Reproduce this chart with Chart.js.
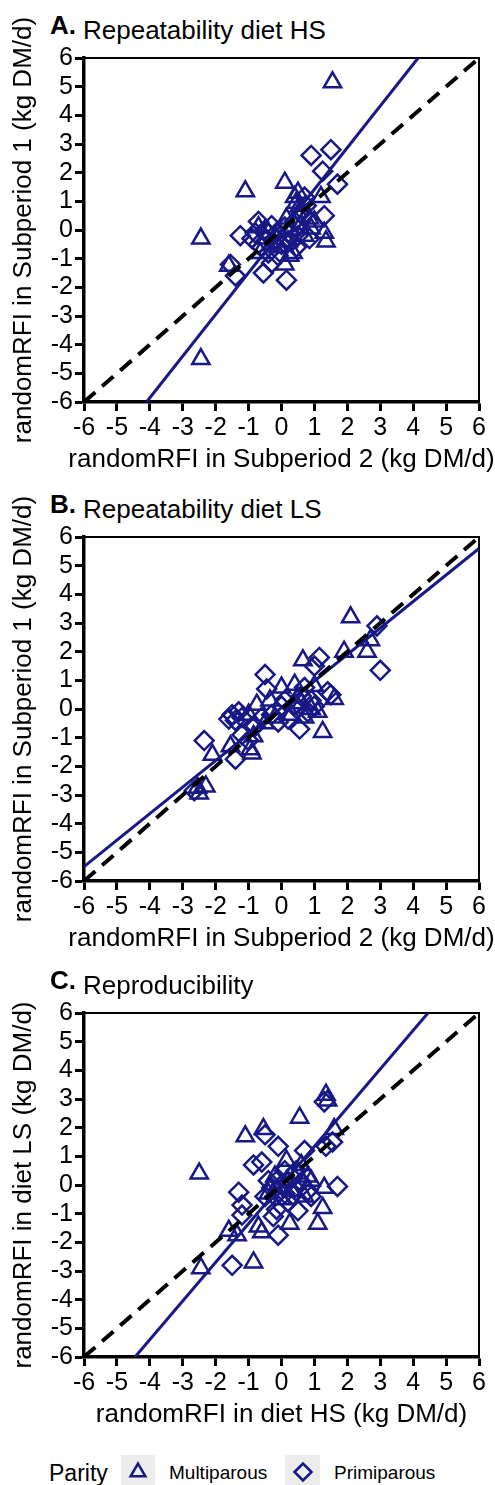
<!DOCTYPE html>
<html>
<head>
<meta charset="utf-8">
<script src="https://cdn.jsdelivr.net/npm/chart.js@4.4.1/dist/chart.umd.min.js"></script>
<style>
    html, body { margin: 0; padding: 0; background: #fff; }
    body {
        width: 495px; height: 1485px; position: relative; overflow: hidden;
        font-family: "Liberation Sans", Arial, sans-serif; color: #000;
    }
    .panel { position: absolute; left: 0; width: 495px; height: 478px; }
    .panel canvas { position: absolute; left: 0; top: 0; }
    .panel-title {
        position: absolute; left: 50px; top: 15px;
        font-size: 26px; line-height: 30px; white-space: nowrap;
    }
    .panel-title b { font-size: 26px; position: relative; top: -5px; margin-right: 7px; }
    .key { position: absolute; white-space: nowrap; line-height: 30px; top: 1458px; }
    .key-box { position: absolute; top: 1455px; }
</style>
</head>
<body>

<div class="panel" style="top:0px">
    <div class="panel-title"><b>A.</b>Repeatability diet HS</div>
    <canvas id="chartA" width="495" height="478"></canvas>
</div>
<div class="panel" style="top:479px">
    <div class="panel-title"><b>B.</b>Repeatability diet LS</div>
    <canvas id="chartB" width="495" height="478"></canvas>
</div>
<div class="panel" style="top:955px">
    <div class="panel-title"><b>C.</b>Reproducibility</div>
    <canvas id="chartC" width="495" height="478"></canvas>
</div>

<span class="key" style="left:49px; font-size:23px">Parity</span>
<canvas class="key-box" id="keyMulti" width="34" height="30" style="left:121px"></canvas>
<span class="key" style="left:169px; font-size:19px">Multiparous</span>
<canvas class="key-box" id="keyPrim" width="35" height="30" style="left:285px"></canvas>
<span class="key" style="left:334px; font-size:19px">Primiparous</span>

<script>
'use strict';

const tickValues = [-6, -5, -4, -3, -2, -1, 0, 1, 2, 3, 4, 5, 6];
const identityLine = [[-6, -6], [6, 6]];

// A. Repeatability diet HS (Subperiod 2 vs Subperiod 1)
const multiA = [
    [-2.45, -0.3], [-2.45, -4.5], [-1.1, 1.35], [0.1, 1.65], [0.4, 1.15], [0.45, 0.95],
    [0.5, 1.3], [0.55, 0.85], [1.2, 1.15], [1.55, 5.15], [1.3, -0.1], [1.35, -0.4],
    [0.85, 0.4], [0.9, 0.05], [0.35, -0.8], [0.1, -1.2], [-0.65, -0.8], [-1.6, -1.25],
    [-0.7, 0.1], [-0.3, -0.5], [0.2, -0.4], [0.6, 0.2], [-0.1, -0.6], [0.7, -0.2],
    [1.0, 0.3], [0.3, 0.0], [-0.4, -0.1], [0.15, 0.4], [0.25, -0.9], [-0.5, -0.3]
];
const primA = [
    [0.9, 2.6], [1.5, 2.8], [1.25, 2.05], [1.7, 1.6], [1.3, 0.5], [0.75, 0.85],
    [-1.25, -0.2], [-0.7, 0.3], [-1.55, -1.2], [-1.4, -1.6], [0.15, -1.75], [-0.55, -1.5],
    [-0.3, -1.15], [-0.9, -0.3], [-0.6, -0.6], [-0.4, -0.8], [-0.2, -0.3], [0.0, -0.5],
    [0.2, -0.1], [0.4, 0.3], [0.6, 0.6], [-0.5, 0.0], [-0.8, -0.1], [0.3, -0.4],
    [0.5, -0.2], [-0.1, -0.9], [0.7, 1.15], [0.65, 0.5], [-0.3, 0.15], [0.1, 0.1],
    [-0.7, -0.5], [0.45, -0.6], [-0.15, -0.1], [0.85, -0.3]
];
const fitA = [[-4.1, -6], [4.15, 6]];

// B. Repeatability diet LS
const multiB = [
    [2.1, 3.2], [2.7, 2.4], [2.6, 2.0], [1.9, 2.0], [0.65, 1.7], [0.0, 0.75],
    [0.4, 0.85], [-0.35, 0.3], [1.6, 0.35], [1.25, -0.8], [-2.1, -1.6], [-1.55, -1.3],
    [-0.95, -1.4], [-0.9, -1.55], [-2.55, -2.75], [-2.5, -2.95], [-2.3, -2.7], [-0.75, 0.15],
    [0.9, 0.0], [0.6, 0.2], [0.3, -0.2], [-0.2, -0.3], [0.7, -0.3], [1.0, 0.8],
    [-1.0, -0.2], [0.5, 0.4], [-0.5, -0.5], [1.1, -0.1], [-0.85, -0.95]
];
const primB = [
    [2.9, 2.9], [3.0, 1.35], [1.15, 1.8], [1.0, 1.5], [-0.5, 1.2], [-0.45, 0.7],
    [1.5, 0.5], [0.55, -0.7], [-2.35, -1.1], [-1.4, -1.75], [-1.2, -0.9], [-2.65, -2.85],
    [-1.5, -0.2], [-1.4, -0.4], [-1.3, -0.1], [-1.2, -0.3], [-1.6, -0.35], [-0.8, -0.6],
    [-0.3, -0.2], [0.0, 0.1], [0.2, -0.35], [0.4, 0.15], [0.6, 0.45], [0.8, -0.1],
    [1.0, 0.1], [0.1, 0.3], [-0.1, -0.45], [0.7, 0.75], [-1.0, -1.1], [0.9, 0.3],
    [1.4, 0.6], [-0.6, -0.3]
];
const fitB = [[-6, -5.5], [6, 5.6]];

// C. Reproducibility (diet HS vs diet LS)
const multiC = [
    [-2.5, 0.4], [-1.1, 1.7], [-0.55, 1.95], [0.55, 2.35], [1.35, 3.15], [1.4, 2.95],
    [1.6, 1.95], [0.15, 0.85], [0.9, 0.15], [1.3, -0.1], [1.25, -0.8], [1.1, -1.35],
    [0.25, -1.35], [-0.7, -1.45], [-1.6, -1.6], [-0.85, -2.7], [-2.45, -2.9], [-1.35, -1.75],
    [-0.6, -1.65], [0.5, 0.4], [0.3, -0.2], [-0.2, 0.3], [0.7, -0.4], [0.0, -0.5],
    [-0.4, -0.3], [0.6, 0.7], [0.8, 0.3]
];
const primC = [
    [-0.5, 1.75], [1.3, 2.9], [1.55, 1.5], [1.35, 1.35], [-0.1, 1.35], [0.7, 1.2],
    [-0.85, 0.7], [-0.6, 0.8], [1.7, -0.05], [-1.3, -0.25], [-1.2, -0.7], [-1.2, -1.05],
    [0.9, -0.4], [0.5, -0.9], [-0.25, -1.1], [-0.15, -0.85], [-0.1, -1.75], [-1.5, -2.8],
    [0.0, 0.0], [0.2, 0.1], [-0.3, -0.1], [0.4, -0.1], [0.1, -0.3], [-0.5, -0.4],
    [0.3, 0.3], [0.6, 0.1], [-0.1, 0.2], [0.2, -0.6], [0.45, 0.5], [-0.4, 0.15],
    [0.8, -0.2], [0.1, 0.5], [-0.2, -0.4], [0.35, -0.35]
];
const fitC = [[-4.45, -6], [4.45, 6]];

const NAVY = '#181886';
const FONT = '"Liberation Sans", Arial, sans-serif';
const TITLE_SIZE = 26;

const toXY = pts => pts.map(p => ({x: p[0], y: p[1]}));

// thin top and right edges of the plot box
const frame = {
    id: 'frame',
    beforeDatasetsDraw(chart) {
        const {ctx, chartArea: a} = chart;
        ctx.save();
        ctx.strokeStyle = '#000';
        ctx.lineWidth = 2;
        ctx.beginPath();
        ctx.moveTo(a.left, a.top);
        ctx.lineTo(a.right, a.top);
        ctx.lineTo(a.right, a.bottom);
        ctx.stroke();
        ctx.restore();
    }
};

// x title drawn at full width (the built-in one gets squeezed to the axis width)
const xTitle = {
    id: 'xTitle',
    afterDraw(chart, args, opts) {
        const {ctx, chartArea: a} = chart;
        const sx = chart.scales.x;
        ctx.save();
        ctx.fillStyle = '#000';
        ctx.font = TITLE_SIZE + 'px ' + FONT;
        ctx.textAlign = 'center';
        ctx.textBaseline = 'middle';
        ctx.fillText(opts.text, (a.left + a.right) / 2, sx.bottom - 18);
        ctx.restore();
    }
};

function axis(fit) {
    return {
        type: 'linear',
        min: -6,
        max: 6,
        afterBuildTicks: scale => { scale.ticks = tickValues.map(v => ({value: v})); },
        afterFit: fit,
        ticks: {
            color: '#000',
            font: {family: FONT, size: 25, lineHeight: 1.2},
            padding: 2,
            autoSkip: false,
            maxRotation: 0
        },
        grid: {drawOnChartArea: false, color: '#000', tickLength: 9, tickWidth: 3},
        border: {color: '#000', width: 3.5}
    };
}

function makeChart(id, multi, prim, fit, xText, yText) {
    const y = axis(s => { s.width = 84; });
    y.title = {
        display: true,
        text: yText,
        color: '#000',
        font: {family: FONT, size: TITLE_SIZE, lineHeight: 1.2},
        padding: {top: 8}
    };

    return new Chart(document.getElementById(id), {
        type: 'scatter',
        data: {
            datasets: [
                {
                    label: 'y = x',
                    data: toXY(identityLine),
                    showLine: true,
                    borderColor: '#000',
                    borderWidth: 4,
                    borderDash: [15, 9],
                    pointRadius: 0
                },
                {
                    label: 'fit',
                    data: toXY(fit),
                    showLine: true,
                    borderColor: NAVY,
                    borderWidth: 3,
                    pointRadius: 0
                },
                {
                    label: 'Multiparous',
                    data: toXY(multi),
                    pointStyle: 'triangle',
                    pointRadius: 10,
                    borderWidth: 2.5,
                    borderColor: NAVY,
                    backgroundColor: 'rgba(0,0,0,0)'
                },
                {
                    label: 'Primiparous',
                    data: toXY(prim),
                    pointStyle: 'rectRot',
                    pointRadius: 9.5,
                    borderWidth: 2.5,
                    borderColor: NAVY,
                    backgroundColor: 'rgba(0,0,0,0)'
                }
            ]
        },
        options: {
            responsive: false,
            animation: false,
            events: [],
            layout: {padding: {top: 58, right: 16, bottom: 0, left: 0}},
            plugins: {
                legend: {display: false},
                tooltip: {enabled: false},
                xTitle: {text: xText}
            },
            scales: {
                x: axis(s => { s.height = 76; }),
                y: y
            }
        },
        plugins: [frame, xTitle]
    });
}

makeChart('chartA', multiA, primA, fitA,
    'randomRFI in Subperiod 2 (kg DM/d)', 'randomRFI in Subperiod 1 (kg DM/d)');
makeChart('chartB', multiB, primB, fitB,
    'randomRFI in Subperiod 2 (kg DM/d)', 'randomRFI in Subperiod 1 (kg DM/d)');
makeChart('chartC', multiC, primC, fitC,
    'randomRFI in diet HS (kg DM/d)', 'randomRFI in diet LS (kg DM/d)');

// legend keys drawn with the library's own point helper
function drawKey(id, style, x, y) {
    const canvas = document.getElementById(id);
    const ctx = canvas.getContext('2d');
    ctx.fillStyle = '#ececec';
    ctx.fillRect(0, 0, canvas.width, canvas.height);
    ctx.strokeStyle = NAVY;
    ctx.fillStyle = 'rgba(0,0,0,0)';
    ctx.lineWidth = 2.5;
    Chart.helpers.drawPoint(ctx, {pointStyle: style, radius: 8.5, borderWidth: 2.5, rotation: 0}, x, y);
}

drawKey('keyMulti', 'triangle', 17, 17);
drawKey('keyPrim', 'rectRot', 18, 17);
</script>
</body>
</html>
